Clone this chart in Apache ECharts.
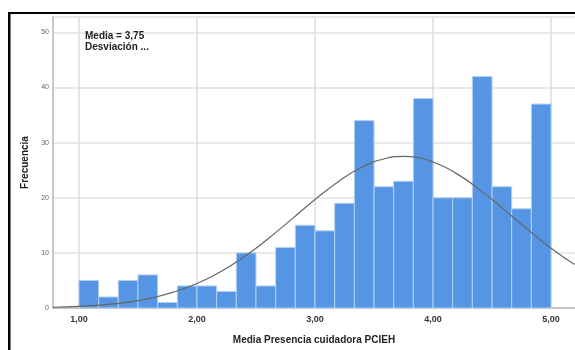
<!DOCTYPE html>
<html>
<head>
<meta charset="utf-8">
<script src="https://cdn.jsdelivr.net/npm/echarts@6/dist/echarts.min.js"></script>
<style>html,body{margin:0;padding:0;background:#fff;}#c{width:575px;height:350px;}</style>
</head>
<body>
<div id="c"></div>
<script>
// Histogram bins (width 1/6 starting at 1.00)
var binStart = 1.0;
var binWidth = 1 / 6;
var counts = [5, 2, 5, 6, 1, 4, 4, 3, 10, 4, 11, 15, 14, 19, 34, 22, 23, 38, 20, 20, 42, 22, 18, 37];
// Normal curve (x, frequency)
var curveX = [0.78, 1.0, 1.2, 1.4, 1.6, 1.8, 2.0, 2.2, 2.4, 2.6, 2.8, 3.0, 3.2, 3.4, 3.6, 3.75, 3.8, 4.0, 4.2, 4.4, 4.6, 4.8, 5.0, 5.2];
var curveY = [0.14, 0.31, 0.58, 1.03, 1.76, 2.87, 4.45, 6.59, 9.30, 12.53, 16.08, 19.68, 22.97, 25.57, 27.13, 27.5, 27.46, 26.50, 24.38, 21.39, 17.90, 14.28, 10.86, 7.88];
var xTicks = [1, 2, 3, 4, 5];
var yTicks = [0, 10, 20, 30, 40, 50];

var barData = counts.map(function (c, i) {
  return [binStart + i * binWidth, binStart + (i + 1) * binWidth, c];
});
var curveData = curveX.map(function (x, i) { return [x, curveY[i]]; });

var FONT = '"Liberation Sans", Arial, sans-serif';
var chart = echarts.init(document.getElementById('c'), null, {renderer: 'canvas'});
chart.setOption({
  animation: false,
  backgroundColor: '#fff',
  textStyle: {fontFamily: FONT},
  grid: {left: 53, right: 0, top: 17, bottom: 42},
  xAxis: {
    type: 'value', min: 0.78, max: 5.203,
    name: 'Media Presencia cuidadora PCIEH', nameLocation: 'middle', nameGap: 27,
    nameTextStyle: {fontFamily: FONT, fontSize: 10, fontWeight: 'bold', color: '#222'},
    axisLine: {show: true, lineStyle: {color: '#b8b8b8', width: 1.5}},
    axisTick: {show: false},
    splitLine: {show: false},
    axisLabel: {
      customValues: xTicks, margin: 7, fontFamily: FONT, fontSize: 9, fontWeight: 'bold', color: '#333',
      formatter: function (v) { return v.toFixed(2).replace('.', ','); }
    }
  },
  yAxis: {
    type: 'value', min: 0, max: 52.8, interval: 10,
    name: 'Frecuencia', nameLocation: 'middle', nameGap: 22,
    nameTextStyle: {fontFamily: FONT, fontSize: 10, fontWeight: 'bold', color: '#222'},
    axisLine: {show: true, lineStyle: {color: '#c8c8c8', width: 2}},
    axisTick: {show: false},
    splitLine: {show: true, lineStyle: {color: '#e2e2e2', width: 1.5}},
    axisLabel: {
      customValues: yTicks, margin: 4, fontFamily: FONT, fontSize: 7, color: '#666'
    }
  },
  series: [
    {
      type: 'custom', z: 1, silent: true,
      data: xTicks,
      encode: {x: 0},
      renderItem: function (params, api) {
        var v = api.value(0);
        var p0 = api.coord([v, 0]);
        var p1 = api.coord([v, 52.8]);
        return {type: 'line', shape: {x1: p0[0], y1: p0[1], x2: p1[0], y2: p1[1]},
          style: {stroke: '#dcdcdc', lineWidth: 1.5}};
      }
    },
    {
      type: 'custom', z: 2,
      data: barData,
      encode: {x: [0, 1], y: 2},
      renderItem: function (params, api) {
        var a = api.coord([api.value(0), api.value(2)]);
        var b = api.coord([api.value(1), 0]);
        return {type: 'rect', shape: {x: a[0], y: a[1], width: b[0] - a[0], height: b[1] - a[1]},
          style: {fill: '#5595e3', stroke: '#b4d0f2', lineWidth: 1}};
      }
    },
    {
      type: 'line', z: 3, smooth: true, showSymbol: false, silent: true,
      data: curveData,
      lineStyle: {color: '#666', width: 1.2}
    }
  ],
  graphic: [
    {type: 'rect', z: 100, left: 8, top: 12, shape: {width: 567, height: 2}, style: {fill: '#000'}},
    {type: 'rect', z: 100, left: 8, top: 12, shape: {width: 2.5, height: 338}, style: {fill: '#000'}},
    {type: 'text', z: 100, left: 85, top: 31, style: {text: 'Media = 3,75\nDesviación ...', fontFamily: FONT, fontSize: 10, fontWeight: 'bold', fill: '#222', lineHeight: 11}}
  ]
});
</script>
</body>
</html>
